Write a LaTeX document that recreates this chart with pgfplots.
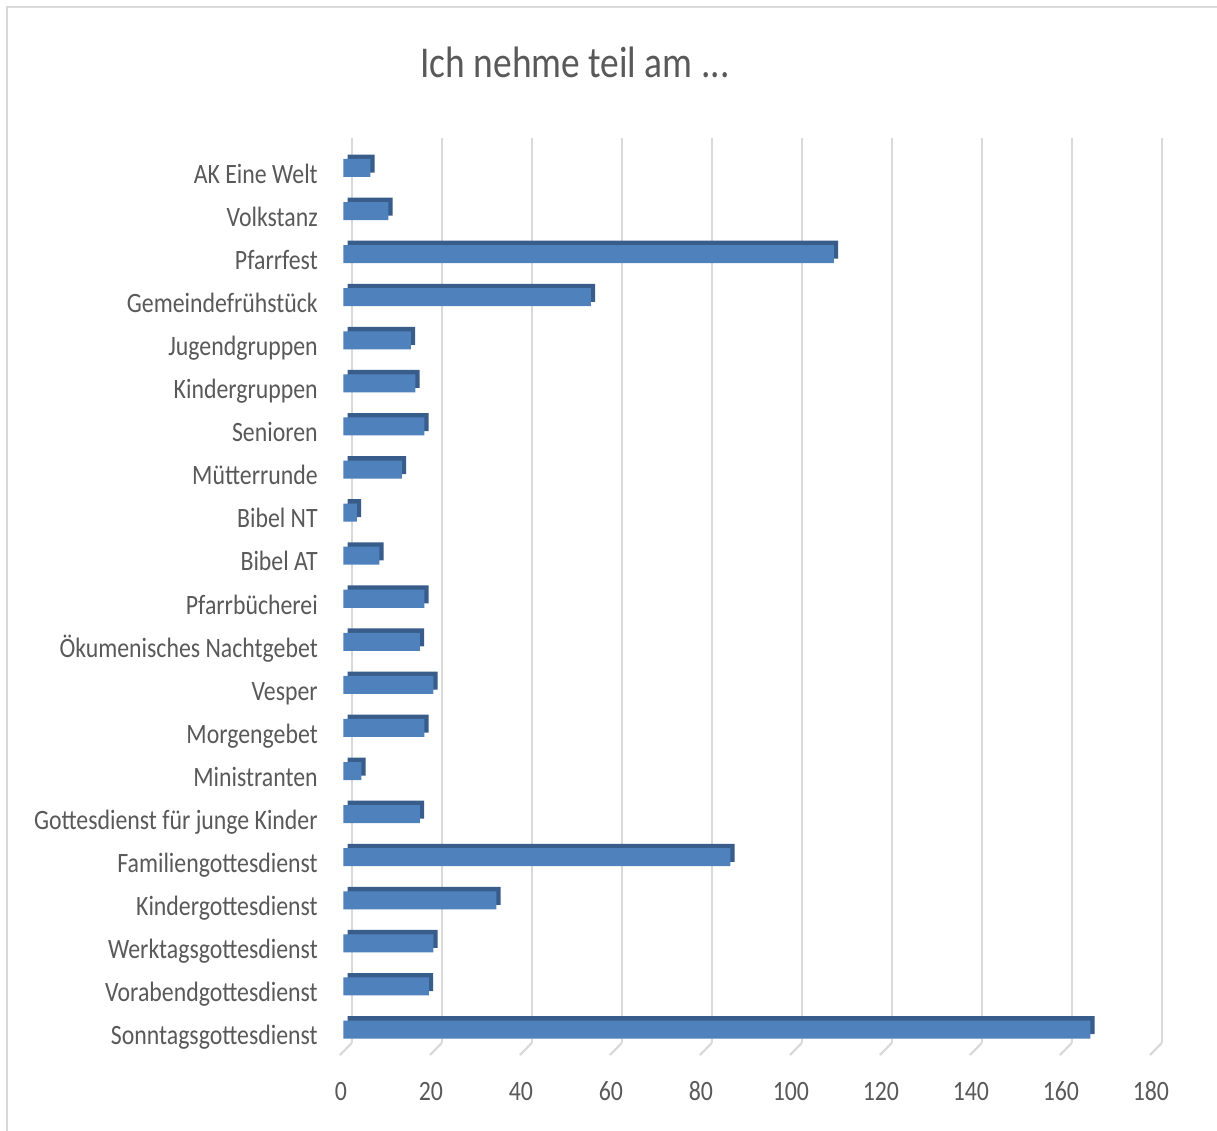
\documentclass[border=0pt]{standalone}
\usepackage{pgfplots}
\pgfplotsset{compat=1.18}
\usepackage{fontspec}
\setmainfont[FakeStretch=0.85]{Carlito}
\definecolor{txt}{HTML}{595959}
\definecolor{gridc}{HTML}{D9D9D9}
\definecolor{barfront}{HTML}{4F81BD}
\definecolor{barside}{HTML}{385D8A}
\begin{document}
\begin{tikzpicture}
\useasboundingbox (0,0) rectangle (608.5pt,565.5pt);
\fill[white] (0,0) rectangle (608.5pt,565.5pt);
\draw[gridc, line width=1pt] (3.35pt,0) -- (3.35pt,562pt) -- (608.5pt,562pt);
\node[text=txt, font=\fontsize{22}{26}\selectfont, anchor=base] at (287.5pt,526.85pt) {Ich nehme teil am ...};
\begin{axis}[
  at={(171.65pt,44pt)}, anchor=south west,
  width=405pt, height=452.5pt, scale only axis,
  xmin=0, xmax=180, ymin=-0.313, ymax=20.696,
  clip=false,
  axis line style={draw=none},
  major tick length=0pt,
  xtick={0,20,...,180},
  ytick={0,...,20},
  yticklabels={Sonntagsgottesdienst,Vorabendgottesdienst,Werktagsgottesdienst,Kindergottesdienst,Familiengottesdienst,Gottesdienst für junge Kinder,Ministranten,Morgengebet,Vesper,Ökumenisches Nachtgebet,Pfarrbücherei,Bibel AT,Bibel NT,Mütterrunde,Senioren,Kindergruppen,Jugendgruppen,Gemeindefrühstück,Pfarrfest,Volkstanz,AK Eine Welt},
  /pgf/number format/assume math mode=true,
  ticklabel style={text=txt, font=\fontsize{14}{16}\selectfont, inner sep=0pt},
  yticklabel style={anchor=base east, xshift=-12.6pt, yshift=-7.65pt},
  xticklabel style={anchor=base, yshift=-28.85pt, xshift=-1.2pt},
]
\pgfplotsinvokeforeach{0,20,40,60,80,100,120,140,160,180}{
  \draw[gridc, line width=1.1pt] ([xshift=4.2pt]axis cs:#1,-0.313) -- ([xshift=4.2pt]axis cs:#1,20.696);
  \draw[gridc, line width=1.1pt] ([xshift=4.2pt]axis cs:#1,-0.313) -- ([xshift=-1.65pt,yshift=-6pt]axis cs:#1,-0.313);
}
\addplot[xbar, bar width=9pt, bar shift=2.2pt, xshift=2.2pt, fill=barside, draw=none] coordinates {
(166,0) (19,1) (20,2) (34,3) (86,4) (17,5) (4,6) (18,7) (20,8) (17,9) (18,10) (8,11) (3,12) (13,13) (18,14) (16,15) (15,16) (55,17) (109,18) (10,19) (6,20)
};
\addplot[xbar, bar width=9pt, bar shift=0pt, fill=barfront, draw=none] coordinates {
(166,0) (19,1) (20,2) (34,3) (86,4) (17,5) (4,6) (18,7) (20,8) (17,9) (18,10) (8,11) (3,12) (13,13) (18,14) (16,15) (15,16) (55,17) (109,18) (10,19) (6,20)
};
\end{axis}
\end{tikzpicture}
\end{document}
